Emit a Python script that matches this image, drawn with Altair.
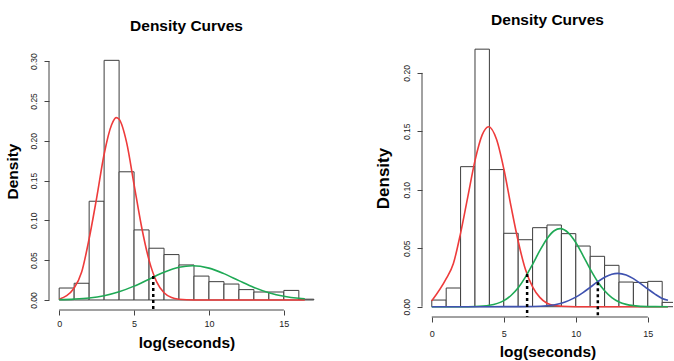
import altair as alt
import pandas as pd

FONT = "Liberation Sans"

# histogram bins (width 1) on log(seconds)
bin_edges = list(range(18))
left_density = [0.015, 0.021, 0.124, 0.301, 0.161, 0.088, 0.065, 0.057, 0.044,
                0.030, 0.023, 0.020, 0.013, 0.010, 0.010, 0.012, 0.001]
right_density = [0.0057, 0.016, 0.1198, 0.2203, 0.1173, 0.0628, 0.0573, 0.0676, 0.0699,
                 0.0625, 0.0519, 0.0431, 0.0354, 0.0211, 0.0208, 0.0217, 0.0037]

# fitted mixture component curves, two components
left_red_x = [0, 1, 1.5, 2, 2.5, 3, 3.5, 3.8, 4, 4.5, 5, 5.5, 6, 6.5, 7, 7.5, 8, 9, 10, 12, 14, 16.4]
left_red_y = [0.001, 0.015, 0.035, 0.077, 0.128, 0.183, 0.220, 0.229, 0.227, 0.198, 0.145,
              0.092, 0.050, 0.023, 0.009, 0.003, 0.001, 0, 0, 0, 0, 0]
left_green_x = [0, 1, 2, 3, 4, 5, 6, 7, 8, 8.9, 10, 11, 12, 13, 14, 15, 16, 16.4]
left_green_y = [0.0004, 0.0011, 0.0025, 0.0054, 0.0103, 0.0174, 0.0261, 0.0347, 0.0410,
                0.0430, 0.0400, 0.0331, 0.0243, 0.0158, 0.0092, 0.0047, 0.0021, 0.0015]

# fitted mixture component curves, three components
right_red_x = [0, 1, 1.5, 2, 2.5, 3, 3.5, 3.94, 4.5, 5, 5.5, 6, 6.5, 7, 7.5, 8, 8.5, 9, 10, 12, 14, 16.4]
right_red_y = [0.005, 0.024, 0.037, 0.063, 0.094, 0.125, 0.147, 0.154, 0.143, 0.118, 0.086,
               0.056, 0.032, 0.017, 0.008, 0.003, 0.001, 0.0004, 0, 0, 0, 0]
right_green_x = [0, 2, 3, 4, 5, 5.5, 6, 6.5, 7, 7.5, 8, 8.5, 8.91, 9.5, 10, 10.5, 11, 11.5,
                 12, 12.5, 13, 13.5, 14, 15, 16.4]
right_green_y = [0, 0, 0.0002, 0.0012, 0.0052, 0.0096, 0.0162, 0.0253, 0.0363, 0.0479, 0.0582,
                 0.0650, 0.0668, 0.0630, 0.0549, 0.0438, 0.0322, 0.0218, 0.0136, 0.0078,
                 0.0041, 0.0020, 0.0009, 0.0001, 0]
right_blue_x = [0, 4, 6, 7, 8, 9, 9.5, 10, 10.5, 11, 11.5, 12, 12.5, 12.92, 13.5, 14, 14.5,
                15, 15.5, 16, 16.4]
right_blue_y = [0, 0, 0.0001, 0.0002, 0.0008, 0.0030, 0.0052, 0.0082, 0.0121, 0.0166, 0.0212,
                0.0252, 0.0278, 0.0285, 0.0271, 0.0240, 0.0198, 0.0152, 0.0108, 0.0071, 0.0055]

# classification cut points (where neighbouring components cross)
left_cut_x = [6.28]
left_cut_top = [0.030]
right_cut_x = [6.62, 11.53]
right_cut_top = [0.028, 0.021]

x_ticks = [0, 5, 10, 15]
left_y_ticks = [0, 0.05, 0.10, 0.15, 0.20, 0.25, 0.30]
right_y_ticks = [0, 0.05, 0.10, 0.15, 0.20]

RED = "#ee3b3b"
GREEN = "#1fa955"
BLUE = "#3f52b0"


def panel(density, curves, cut_x, cut_top, x_dom, y_dom, y_ticks, width, height,
          title_offset, tick_pad, x_title_pad, y_title_pad, y_title_size, y_title_y):
    xs = alt.Scale(domain=x_dom, nice=False, zero=False)
    ys = alt.Scale(domain=y_dom, nice=False, zero=False)
    y_floor = y_dom[0]

    hist = pd.DataFrame({"lo": bin_edges[:-1], "hi": bin_edges[1:], "density": density})
    bars = alt.Chart(hist).mark_rect(
        fill="white", stroke="#3d3d3d", strokeWidth=1, clip=True
    ).encode(
        x=alt.X("lo:Q", scale=xs, axis=alt.Axis(
            values=x_ticks, format="d", domain=False, grid=False, tickSize=5,
            tickColor="#444", labelFont=FONT, labelFontSize=9, labelColor="#222",
            labelPadding=tick_pad, title="log(seconds)", titleFont=FONT,
            titleFontSize=15.5, titleFontWeight="bold", titleColor="black",
            titlePadding=x_title_pad)),
        x2="hi:Q",
        y=alt.Y("density:Q", scale=ys, axis=alt.Axis(
            values=y_ticks, format=".2f", domain=False, grid=False, tickSize=5,
            tickColor="#444", labelFont=FONT, labelFontSize=8.5, labelColor="#222",
            labelAngle=270, labelAlign="center", labelBaseline="bottom",
            labelPadding=6, title="Density", titleFont=FONT,
            titleFontSize=y_title_size, titleFontWeight="bold", titleColor="black",
            titlePadding=y_title_pad, titleY=y_title_y)),
        y2=alt.datum(0),
    )

    layers = [bars]
    for cx, cy, col in curves:
        cdf = pd.DataFrame({"x": cx, "y": cy})
        layers.append(
            alt.Chart(cdf).mark_line(color=col, strokeWidth=1.6, interpolate="monotone", clip=True)
            .encode(x=alt.X("x:Q", scale=xs), y=alt.Y("y:Q", scale=ys))
        )

    cuts = pd.DataFrame({"x": cut_x, "top": cut_top, "bottom": [y_floor] * len(cut_x)})
    layers.append(
        alt.Chart(cuts).mark_rule(color="black", strokeWidth=2.5, strokeDash=[3, 3])
        .encode(x=alt.X("x:Q", scale=xs), y=alt.Y("top:Q", scale=ys), y2="bottom:Q")
    )

    # axis lines spanning only the labelled tick range
    xline = pd.DataFrame({"a": [x_ticks[0]], "b": [x_ticks[-1]], "y": [y_floor]})
    layers.append(
        alt.Chart(xline).mark_rule(color="#444", strokeWidth=1)
        .encode(x=alt.X("a:Q", scale=xs), x2="b:Q", y=alt.Y("y:Q", scale=ys))
    )
    yline = pd.DataFrame({"a": [y_ticks[0]], "b": [y_ticks[-1]], "x": [x_dom[0]]})
    layers.append(
        alt.Chart(yline).mark_rule(color="#444", strokeWidth=1)
        .encode(y=alt.Y("a:Q", scale=ys), y2="b:Q", x=alt.X("x:Q", scale=xs))
    )

    return alt.layer(*layers).properties(
        width=width, height=height,
        title=alt.TitleParams("Density Curves", font=FONT, fontSize=15.5, fontWeight="bold",
                              color="black", anchor="middle", offset=title_offset),
    )


left = panel(left_density,
             [(left_red_x, left_red_y, RED), (left_green_x, left_green_y, GREEN)],
             left_cut_x, left_cut_top,
             [-0.68, 17.68], [-0.0126, 0.3278], left_y_ticks, 275, 271,
             title_offset=5, tick_pad=4, x_title_pad=7, y_title_pad=9, y_title_size=15.5,
             y_title_y=132)

right = panel(right_density,
              [(right_red_x, right_red_y, RED), (right_green_x, right_green_y, GREEN),
               (right_blue_x, right_blue_y, BLUE)],
              right_cut_x, right_cut_top,
              [-0.68, 16.75], [-0.0088, 0.229], right_y_ticks, 251, 278,
              title_offset=11, tick_pad=7, x_title_pad=6, y_title_pad=10, y_title_size=17,
              y_title_y=139)

chart = alt.hconcat(left, right, spacing=98, bounds="flush").properties(
    padding={"left": 4, "top": 12, "right": 0, "bottom": 0},
    background="white",
).configure_view(stroke=None)

chart.save("out.html", embed_options={"renderer": "svg", "actions": False})
